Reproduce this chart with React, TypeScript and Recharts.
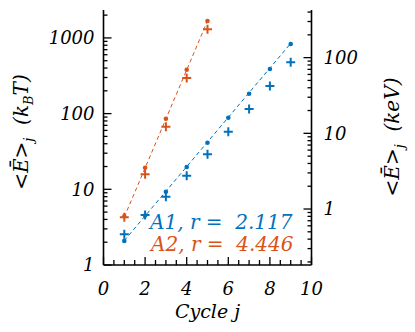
import React from "react";
import { ComposedChart, Scatter, XAxis, YAxis } from "recharts";

// cycle index
const cycles = [1, 2, 3, 4, 5, 6, 7, 8, 9];
const cyclesA2 = [1, 2, 3, 4, 5];

// A1 (blue): mean energy, k_B T
const a1Dots = [2.08, 4.5, 9.3, 19.7, 41.3, 88.3, 183, 388, 830];
const a1Plus = [2.54, 4.58, 7.98, 15.1, 29.0, 57.7, 115, 231, 476];
// A2 (red)
const a2Dots = [4.4, 19.3, 85.7, 380, 1672];
const a2Plus = [4.27, 15.8, 67.1, 295, 1300];

// fitted lines (end points)
const a1FitX = [1, 9];
const a1FitY = [2.1, 846];
const a2FitX = [1, 5];
const a2FitY = [4.3, 1680];

const leftTicks = [
  1, 2, 3, 4, 5, 6, 7, 8, 9, 10, 20, 30, 40, 50, 60, 70, 80, 90,
  100, 200, 300, 400, 500, 600, 700, 800, 900, 1000, 2000,
];
const rightTicks = [
  0.2, 0.3, 0.4, 0.5, 0.6, 0.7, 0.8, 0.9, 1, 2, 3, 4, 5, 6, 7, 8, 9,
  10, 20, 30, 40, 50, 60, 70, 80, 90, 100, 200, 300, 400,
];
const xTicks = [0, 0.5, 1, 1.5, 2, 2.5, 3, 3.5, 4, 4.5, 5, 5.5, 6, 6.5, 7, 7.5, 8, 8.5, 9, 9.5, 10];
const xLabels = [0, 2, 4, 6, 8, 10];

const leftDomain = [1, 2338];
const keVPerKT = 1 / 5.49;
const rightDomain = [leftDomain[0] * keVPerKT, leftDomain[1] * keVPerKT];

const BLUE = "#0072BD";
const RED = "#D95319";
const FONT = "'DejaVu Serif', serif";

const pts = (xs: number[], ys: number[]) => xs.map((x, i) => ({ x, y: ys[i] }));

const isDecade = (v: number) => Math.abs(Math.log10(v) - Math.round(Math.log10(v))) < 1e-9;

const LeftTick = (p: any) => {
  const v = p.payload.value;
  const major = isDecade(v);
  return (
    <g>
      <line x1={p.x} x2={p.x + (major ? 8 : 4)} y1={p.y} y2={p.y} stroke="#000" strokeWidth={1.3} />
      {major && (
        <text x={p.x - 9} y={p.y} dy="0.36em" textAnchor="end" fontFamily={FONT} fontStyle="italic" fontSize={18} fill="#000">
          {v}
        </text>
      )}
    </g>
  );
};

const RightTick = (p: any) => {
  const v = p.payload.value;
  const major = isDecade(v);
  return (
    <g>
      <line x1={p.x} x2={p.x - (major ? 8 : 4)} y1={p.y} y2={p.y} stroke="#000" strokeWidth={1.3} />
      {major && (
        <text x={p.x + 12} y={p.y} dy="0.36em" textAnchor="start" fontFamily={FONT} fontStyle="italic" fontSize={18} fill="#000">
          {v}
        </text>
      )}
    </g>
  );
};

const BottomTick = (p: any) => {
  const v = p.payload.value;
  const major = xLabels.includes(v);
  return (
    <g>
      <line x1={p.x} x2={p.x} y1={p.y} y2={p.y - (major ? 8 : 5)} stroke="#000" strokeWidth={1.3} />
      {major && (
        <text x={p.x} y={p.y + 30} textAnchor="middle" fontFamily={FONT} fontStyle="italic" fontSize={18} fill="#000">
          {v}
        </text>
      )}
    </g>
  );
};

const TopTick = (p: any) => {
  const v = p.payload.value;
  const major = xLabels.includes(v);
  return <line x1={p.x} x2={p.x} y1={p.y} y2={p.y + (major ? 8 : 5)} stroke="#000" strokeWidth={1.3} />;
};

const Dot = (color: string) => (p: any) => <circle cx={p.cx} cy={p.cy} r={2.3} fill={color} />;
const Plus = (color: string) => (p: any) => (
  <g stroke={color} strokeWidth={2}>
    <line x1={p.cx - 4.5} x2={p.cx + 4.5} y1={p.cy} y2={p.cy} />
    <line x1={p.cx} x2={p.cx} y1={p.cy - 4.5} y2={p.cy + 4.5} />
  </g>
);
const None = () => <g />;

const axisLine = { stroke: "#000", strokeWidth: 1.6 };

export default function App() {
  return (
    <div style={{ position: "absolute", left: 0, top: 0, width: 415, height: 332, background: "#fff" }}>
      <ComposedChart width={415} height={332} margin={{ top: 10, right: 43.5, bottom: 37, left: 43.5 }}>
        <XAxis
          xAxisId="bottom"
          type="number"
          dataKey="x"
          domain={[0, 10]}
          ticks={xTicks}
          interval={0}
          height={30}
          tickSize={0}
          tickMargin={0}
          tickLine={false}
          axisLine={axisLine}
          tick={<BottomTick />}
        />
        <XAxis
          xAxisId="top"
          orientation="top"
          type="number"
          dataKey="x"
          domain={[0, 10]}
          ticks={xTicks}
          interval={0}
          height={0}
          tickSize={0}
          tickMargin={0}
          tickLine={false}
          axisLine={axisLine}
          tick={<TopTick />}
        />
        <YAxis
          yAxisId="left"
          type="number"
          dataKey="y"
          scale="log"
          domain={leftDomain}
          allowDataOverflow
          ticks={leftTicks}
          interval={0}
          width={60}
          tickSize={0}
          tickMargin={0}
          tickLine={false}
          axisLine={axisLine}
          tick={<LeftTick />}
        />
        <YAxis
          yAxisId="right"
          orientation="right"
          type="number"
          dataKey="y"
          scale="log"
          domain={rightDomain}
          allowDataOverflow
          ticks={rightTicks}
          interval={0}
          width={60}
          tickSize={0}
          tickMargin={0}
          tickLine={false}
          axisLine={axisLine}
          tick={<RightTick />}
        />
        <Scatter xAxisId="top" yAxisId="right" data={[]} shape={None} isAnimationActive={false} />
        <Scatter xAxisId="bottom" yAxisId="left" data={pts(a1FitX, a1FitY)} line={{ stroke: BLUE, strokeWidth: 1, strokeDasharray: "4 3" }} shape={None} isAnimationActive={false} />
        <Scatter xAxisId="bottom" yAxisId="left" data={pts(a2FitX, a2FitY)} line={{ stroke: RED, strokeWidth: 1, strokeDasharray: "4 3" }} shape={None} isAnimationActive={false} />
        <Scatter xAxisId="bottom" yAxisId="left" data={pts(cycles, a1Dots)} shape={Dot(BLUE)} isAnimationActive={false} />
        <Scatter xAxisId="bottom" yAxisId="left" data={pts(cycles, a1Plus)} shape={Plus(BLUE)} isAnimationActive={false} />
        <Scatter xAxisId="bottom" yAxisId="left" data={pts(cyclesA2, a2Dots)} shape={Dot(RED)} isAnimationActive={false} />
        <Scatter xAxisId="bottom" yAxisId="left" data={pts(cyclesA2, a2Plus)} shape={Plus(RED)} isAnimationActive={false} />
      </ComposedChart>
      <svg width={415} height={332} style={{ position: "absolute", left: 0, top: 0, pointerEvents: "none" }} fontFamily={FONT} fontStyle="italic">
        <text x={150} y={229} fontSize={20} fill={BLUE} xmlSpace="preserve">{"A1, r =  2.117"}</text>
        <text x={151} y={250.5} fontSize={20} fill={RED} xmlSpace="preserve">{"A2, r =  4.446"}</text>
        <text x={207.5} y={318} fontSize={19} textAnchor="middle" fill="#000">Cycle j</text>
        <text transform="translate(28,132) rotate(-90)" textAnchor="middle" fontSize={20} fill="#000" xmlSpace="preserve">
          <tspan fontStyle="normal">{"<"}</tspan>
          <tspan>Ē</tspan>
          <tspan fontStyle="normal">{">"}</tspan>
          <tspan fontSize={13} dy={5}>j</tspan>
          <tspan dy={-5}>{"  (k"}</tspan>
          <tspan fontSize={13} dy={5}>B</tspan>
          <tspan dy={-5}>T)</tspan>
        </text>
        <text transform="translate(399,137) rotate(-90)" textAnchor="middle" fontSize={20} fill="#000" xmlSpace="preserve">
          <tspan fontStyle="normal">{"<"}</tspan>
          <tspan>Ē</tspan>
          <tspan fontStyle="normal">{">"}</tspan>
          <tspan fontSize={13} dy={5}>j</tspan>
          <tspan dy={-5}>{"  (keV)"}</tspan>
        </text>
      </svg>
    </div>
  );
}
